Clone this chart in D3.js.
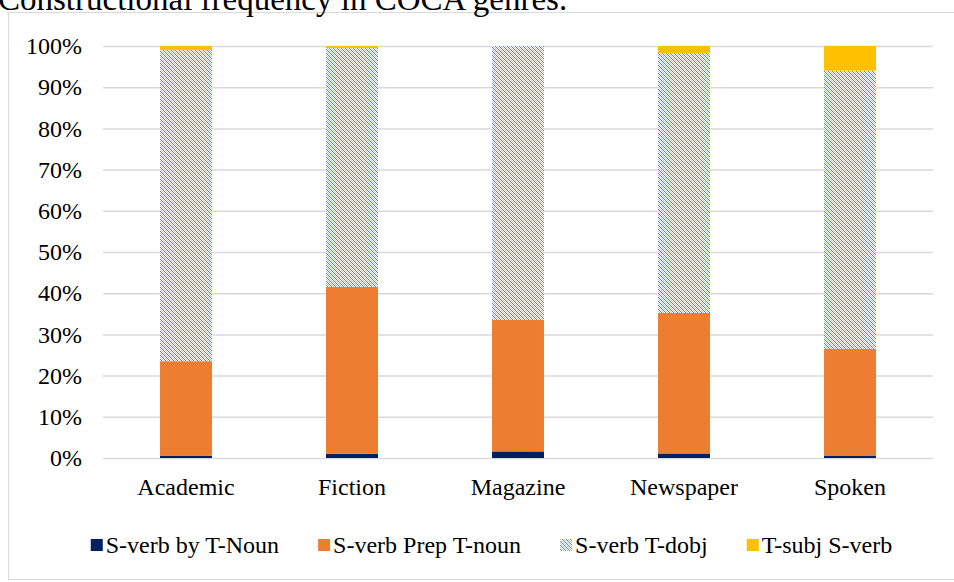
<!DOCTYPE html>
<html>
<head>
<meta charset="utf-8">
<script src="https://cdn.jsdelivr.net/npm/d3@7"></script>
<style>
  body { margin: 0; background: #fff; }
  svg text { font-family: "Liberation Serif", "Times New Roman", serif !important; fill: #000; }
</style>
</head>
<body>
<div id="chart"></div>
<script>
// data (percent of each genre)
var genres = ["Academic", "Fiction", "Magazine", "Newspaper", "Spoken"];
var seriesNames = ["S-verb by T-Noun", "S-verb Prep T-noun", "S-verb T-dobj", "T-subj S-verb"];
var byNoun = [0.5, 1.0, 1.6, 1.1, 0.6];
var prepNoun = [23.0, 40.5, 31.9, 34.1, 25.9];
var dobj = [75.5, 58.0, 66.5, 63.1, 67.5];
var subjVerb = [1.0, 0.5, 0.0, 1.7, 6.0];
var yTicks = [0, 0.1, 0.2, 0.3, 0.4, 0.5, 0.6, 0.7, 0.8, 0.9, 1.0];

var svgWidth = 954;
var svgHeight = 582;

var margin = { top: 46, right: 21, bottom: 124, left: 103 };
var width = svgWidth - margin.left - margin.right;
var height = svgHeight - margin.top - margin.bottom;

var colors = ["#002060", "#ED7D31", "url(#dobjPattern)", "#FFC000"];

var svg = d3.select("#chart")
  .append("svg")
  .attr("width", svgWidth)
  .attr("height", svgHeight)
  .attr("font-family", "Liberation Serif");

// dotted diagonal fill for the T-dobj series
var defs = svg.append("defs");
var pat = defs.append("pattern")
  .attr("id", "dobjPattern")
  .attr("patternUnits", "userSpaceOnUse")
  .attr("width", 4)
  .attr("height", 4);
pat.append("rect").attr("width", 4).attr("height", 4).attr("fill", "#ffffff");
[[0, 0], [1, 1], [2, 2], [3, 3]].forEach(function(p) {
  pat.append("rect").attr("x", p[0]).attr("y", p[1]).attr("width", 1).attr("height", 1).attr("fill", "#5f7bbb");
});
[[2, 0], [3, 1], [0, 2], [1, 3]].forEach(function(p) {
  pat.append("rect").attr("x", p[0]).attr("y", p[1]).attr("width", 1).attr("height", 1).attr("fill", "#b4c3e6");
});

// outer frame
svg.append("rect")
  .attr("x", 8.5)
  .attr("y", 12.5)
  .attr("width", 1000)
  .attr("height", 567)
  .attr("fill", "none")
  .attr("stroke", "#d9d9d9");

// title, mostly cut off at the top
svg.append("text")
  .attr("x", -2)
  .attr("y", 10)
  .style("font-size", "33px")
  .text("Constructional frequency in COCA genres.");

var chartGroup = svg.append("g")
  .attr("transform", `translate(${margin.left}, ${margin.top})`);

var x = d3.scaleBand()
  .domain(genres)
  .range([0, width])
  .paddingInner(0.687)
  .paddingOuter(0.3435);

var y = d3.scaleLinear()
  .domain([0, 1])
  .range([height, 0]);

// gridlines + y labels
var yAxis = chartGroup.append("g")
  .call(d3.axisLeft(y).tickValues(yTicks).tickFormat(d3.format(".0%")).tickSize(-width).tickPadding(21))
  .attr("font-family", null);
yAxis.select(".domain").remove();
yAxis.selectAll("line").attr("stroke", "#d9d9d9").attr("stroke-width", 1.5);
yAxis.selectAll("text")
  .style("font-size", "24px")
  .attr("fill", "#000");

// stacked bars
var table = genres.map(function(g, i) {
  return { genre: g, s0: byNoun[i], s1: prepNoun[i], s2: dobj[i], s3: subjVerb[i] };
});
var stack = d3.stack().keys(["s0", "s1", "s2", "s3"]);
var layers = stack(table);

chartGroup.selectAll(".layer")
  .data(layers)
  .enter()
  .append("g")
  .attr("class", "layer")
  .attr("fill", (d, i) => colors[i])
  .selectAll("rect")
  .data(d => d)
  .enter()
  .append("rect")
  .attr("x", d => x(d.data.genre))
  .attr("width", x.bandwidth())
  .attr("y", d => y(d[1] / 100))
  .attr("height", d => y(d[0] / 100) - y(d[1] / 100));

// x labels
var xAxis = chartGroup.append("g")
  .attr("transform", `translate(0, ${height})`)
  .call(d3.axisBottom(x).tickSize(0))
  .attr("font-family", null);
xAxis.select(".domain").remove();
xAxis.selectAll("text")
  .attr("y", 37)
  .attr("dy", 0)
  .style("font-size", "24px")
  .attr("fill", "#000");

// legend
var legend = svg.append("g").attr("transform", "translate(0, 545)");
var items = legend.selectAll(".item")
  .data(seriesNames)
  .enter()
  .append("g")
  .attr("class", "item");
items.append("rect")
  .attr("x", 0)
  .attr("y", -6)
  .attr("width", 12)
  .attr("height", 12)
  .attr("fill", (d, i) => colors[i]);
items.append("text")
  .attr("x", 15)
  .attr("y", 8)
  .style("font-size", "24px")
  .text(d => d);

var gap = 39;
var total = 0;
var widths = [];
items.each(function() {
  var w = 15 + d3.select(this).select("text").node().getComputedTextLength();
  widths.push(w);
  total += w;
});
total += gap * (seriesNames.length - 1);
var pos = 491.5 - total / 2;
items.attr("transform", function(d, i) {
  var t = `translate(${pos}, 0)`;
  pos += widths[i] + gap;
  return t;
});
</script>
</body>
</html>
